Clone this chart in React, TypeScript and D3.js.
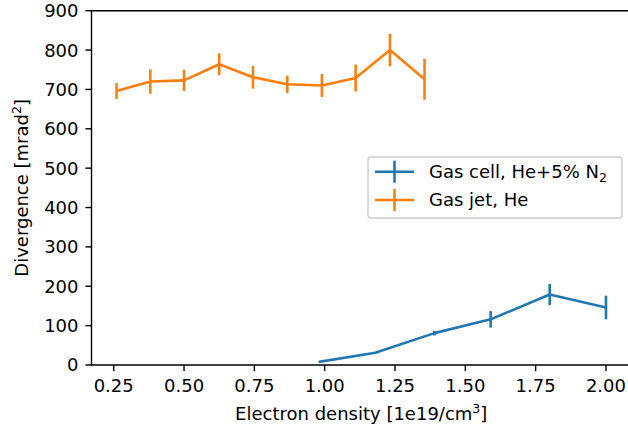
import React from "react";
import * as d3 from "d3";

const orangeX = [0.26, 0.38, 0.5, 0.625, 0.745, 0.867, 0.99, 1.11, 1.232, 1.355];
const orangeY = [696, 720, 723, 764, 731, 713, 710, 729, 800, 726];
const orangeErr = [20, 31, 27, 28, 29, 22, 29, 34, 41, 52];

const blueX = [0.98, 1.18, 1.39, 1.59, 1.8, 2.0];
const blueY = [8, 31, 81, 116, 179, 146];
const blueErr = [1, 2, 6, 21, 27, 30];

const xTicks = [0.25, 0.5, 0.75, 1.0, 1.25, 1.5, 1.75, 2.0];
const yTicks = [0, 100, 200, 300, 400, 500, 600, 700, 800, 900];

const BLUE = "#1f77b4";
const ORANGE = "#ff7f0e";
const FONT = "'DejaVu Sans', sans-serif";
const FS = 18;
const LW = 2.6;

export default function App() {
  const left = 91.5, right = 631, top = 10.7, bottom = 365;
  const x = d3.scaleLinear().domain([0.171, 2.089]).range([left, right]);
  const y = d3.scaleLinear().domain([0, 900]).range([bottom, top]);
  const line = d3.line<[number, number]>().x(d => x(d[0])).y(d => y(d[1]));

  const series = [
    { xs: blueX, ys: blueY, es: blueErr, color: BLUE },
    { xs: orangeX, ys: orangeY, es: orangeErr, color: ORANGE },
  ];

  const legX = 368, legY = 157, legW = 254, legH = 61;
  const entries = [
    { color: BLUE, cy: 171.7, label: <>Gas cell, He+5% N<tspan fontSize={FS * 0.7} dy={4}>2</tspan></> },
    { color: ORANGE, cy: 200, label: <>Gas jet, He</> },
  ];

  return (
    <svg width={628} height={428} style={{ position: "fixed", left: 0, top: 0, background: "#fff" }} fontFamily={FONT}>
      <rect x={0} y={0} width={628} height={428} fill="#fff" />
      {series.map((s, si) => (
        <g key={si}>
          <path d={line(s.xs.map((v, i) => [v, s.ys[i]] as [number, number])) || ""} fill="none" stroke={s.color} strokeWidth={LW} strokeLinejoin="round" strokeLinecap="butt" />
          {s.xs.map((v, i) => (
            <line key={i} x1={x(v)} x2={x(v)} y1={y(s.ys[i] - s.es[i])} y2={y(s.ys[i] + s.es[i])} stroke={s.color} strokeWidth={LW} />
          ))}
        </g>
      ))}
      {/* spines */}
      <line x1={left} x2={left} y1={top} y2={bottom} stroke="#000" strokeWidth={1.39} strokeLinecap="square" />
      <line x1={left} x2={right} y1={bottom} y2={bottom} stroke="#000" strokeWidth={1.39} strokeLinecap="square" />
      <line x1={left} x2={right} y1={top} y2={top} stroke="#000" strokeWidth={1.39} strokeLinecap="square" />
      {/* y ticks */}
      {yTicks.map(t => (
        <g key={t}>
          <line x1={left - 6.1} x2={left} y1={y(t)} y2={y(t)} stroke="#000" strokeWidth={1.39} />
          <text x={left - 13} y={y(t)} dy="0.36em" textAnchor="end" fontSize={FS} fill="#000">{t}</text>
        </g>
      ))}
      {/* x ticks */}
      {xTicks.map(t => (
        <g key={t}>
          <line x1={x(t)} x2={x(t)} y1={bottom} y2={bottom + 6.1} stroke="#000" strokeWidth={1.39} />
          <text x={x(t)} y={392} textAnchor="middle" fontSize={FS} fill="#000">{t.toFixed(2)}</text>
        </g>
      ))}
      <text x={(left + right) / 2} y={420} textAnchor="middle" fontSize={FS} fill="#000">
        Electron density [1e19/cm<tspan fontSize={FS * 0.7} dy={-7}>3</tspan><tspan dy={7}>]</tspan>
      </text>
      <text transform={`translate(27.5, ${(top + bottom) / 2}) rotate(-90)`} textAnchor="middle" fontSize={FS} fill="#000">
        Divergence [mrad<tspan fontSize={FS * 0.7} dy={-7}>2</tspan><tspan dy={7}>]</tspan>
      </text>
      {/* legend */}
      <rect x={legX} y={legY} width={legW} height={legH} rx={3} ry={3} fill="#fff" fillOpacity={0.8} stroke="#cccccc" strokeWidth={1.39} />
      {entries.map((e, i) => (
        <g key={i}>
          <line x1={375} x2={414} y1={e.cy} y2={e.cy} stroke={e.color} strokeWidth={LW} />
          <line x1={394.5} x2={394.5} y1={e.cy - 11} y2={e.cy + 11} stroke={e.color} strokeWidth={LW} />
          <text x={429} y={e.cy} dy="0.36em" fontSize={FS} fill="#000">{e.label}</text>
        </g>
      ))}
    </svg>
  );
}
